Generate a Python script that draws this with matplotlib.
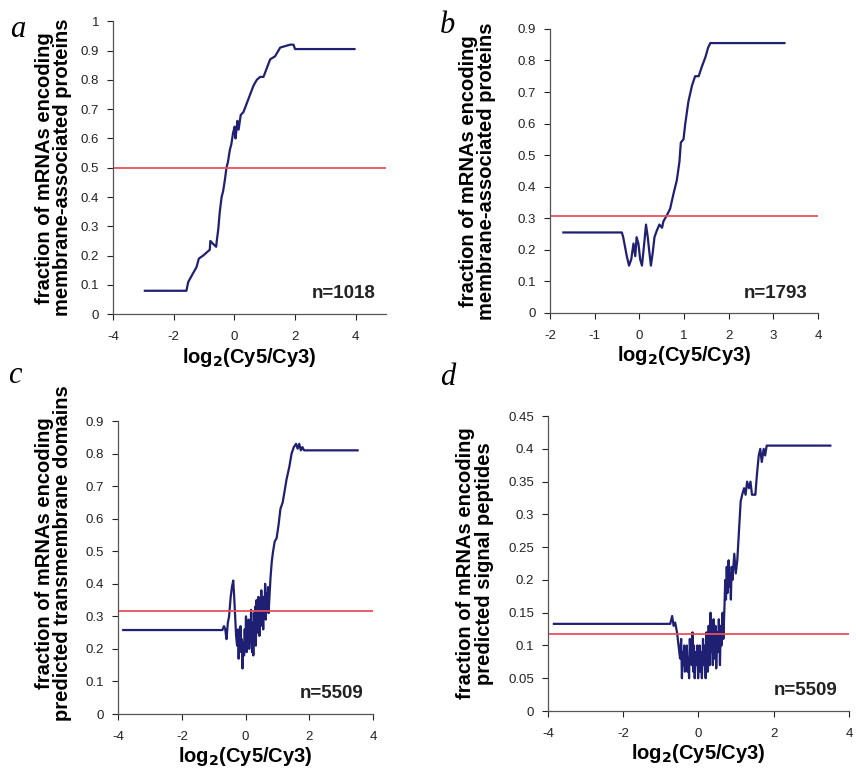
import matplotlib.pyplot as plt

plt.rcParams['axes.unicode_minus'] = False
plt.rcParams['font.family'] = 'Liberation Sans'

# panel a: membrane-associated proteins, n=1018
a_x = [-2.95, -1.58, -1.52, -1.36, -1.25, -1.17, -1.03, -0.92, -0.81, -0.79, -0.70, -0.60,
       -0.58, -0.53, -0.48, -0.42, -0.37, -0.31, -0.26, -0.21, -0.15, -0.10, -0.04, 0.01,
       0.04, 0.10, 0.14, 0.21, 0.30, 0.41, 0.52, 0.63, 0.74, 0.85, 0.96, 1.07, 1.18, 1.34,
       1.51, 1.67, 1.84, 1.95, 2.00, 3.96]
a_y = [0.08, 0.08, 0.11, 0.14, 0.16, 0.19, 0.20, 0.21, 0.22, 0.25, 0.24, 0.23,
       0.25, 0.29, 0.35, 0.40, 0.42, 0.46, 0.50, 0.52, 0.56, 0.58, 0.62, 0.64,
       0.60, 0.66, 0.63, 0.68, 0.69, 0.72, 0.75, 0.78, 0.80, 0.81, 0.81, 0.84, 0.87, 0.88,
       0.91, 0.915, 0.92, 0.92, 0.905, 0.905]
a_ref = 0.5

# panel b: membrane-associated proteins, n=1793
b_x = [-1.70, -0.39, -0.36, -0.32, -0.28, -0.23, -0.18, -0.13, -0.09, -0.06, -0.02, 0.02,
       0.06, 0.11, 0.15, 0.19, 0.22, 0.26, 0.30, 0.34, 0.39, 0.45, 0.51, 0.54, 0.62,
       0.69, 0.77, 0.84, 0.90, 0.93, 0.99, 1.03, 1.10, 1.18, 1.25, 1.33, 1.40, 1.48,
       1.54, 1.59, 3.25]
b_y = [0.255, 0.255, 0.24, 0.21, 0.18, 0.15, 0.17, 0.22, 0.18, 0.24, 0.22, 0.17,
       0.15, 0.22, 0.28, 0.24, 0.20, 0.15, 0.19, 0.24, 0.26, 0.28, 0.27, 0.29, 0.31,
       0.33, 0.38, 0.42, 0.48, 0.54, 0.55, 0.60, 0.67, 0.72, 0.75, 0.75, 0.78, 0.81,
       0.84, 0.855, 0.855]
b_ref = 0.308

# panel c: predicted transmembrane domains, n=5509
c_x = [-3.84, -0.73, -0.68, -0.64, -0.60, -0.56, -0.52, -0.47, -0.43, -0.39, -0.36, -0.33,
       -0.30, -0.27, -0.24, -0.22, -0.20, -0.18, -0.16, -0.14, -0.12, -0.10, -0.07, -0.05,
       -0.03, -0.01, 0.01, 0.03, 0.05, 0.07, 0.09, 0.11, 0.13, 0.15, 0.17, 0.20, 0.22,
       0.24, 0.26, 0.28, 0.30, 0.32, 0.34, 0.36, 0.38, 0.40, 0.43, 0.45, 0.47, 0.49,
       0.51, 0.53, 0.55, 0.57, 0.59, 0.61, 0.63, 0.65, 0.68, 0.70, 0.72, 0.74, 0.78,
       0.82, 0.86, 0.91, 0.97, 1.03, 1.09, 1.16, 1.23, 1.28, 1.37, 1.44, 1.51, 1.58,
       1.63, 1.68, 1.73, 1.78, 1.83, 3.51]
c_y = [0.258, 0.258, 0.27, 0.26, 0.23, 0.28, 0.30, 0.36, 0.39, 0.41, 0.36, 0.30,
       0.24, 0.21, 0.26, 0.17, 0.24, 0.20, 0.27, 0.19, 0.23, 0.14, 0.22, 0.18,
       0.26, 0.20, 0.30, 0.19, 0.25, 0.21, 0.29, 0.20, 0.27, 0.22, 0.32, 0.19, 0.28,
       0.18, 0.31, 0.23, 0.33, 0.21, 0.35, 0.25, 0.30, 0.36, 0.24, 0.33, 0.27, 0.38,
       0.28, 0.34, 0.26, 0.36, 0.30, 0.40, 0.29, 0.37, 0.33, 0.39, 0.31, 0.35,
       0.42, 0.47, 0.50, 0.53, 0.54, 0.58, 0.63, 0.65, 0.69, 0.72, 0.76, 0.80, 0.82,
       0.83, 0.815, 0.83, 0.81, 0.82, 0.81, 0.81]
c_ref = 0.315

# panel d: predicted signal peptides, n=5509
d_x = [-3.84, -0.75, -0.70, -0.66, -0.62, -0.57, -0.53, -0.49, -0.46, -0.44, -0.42, -0.40,
       -0.38, -0.36, -0.33, -0.31, -0.29, -0.27, -0.25, -0.23, -0.21, -0.18, -0.16, -0.14,
       -0.12, -0.10, -0.08, -0.06, -0.03, -0.01, 0.01, 0.03, 0.05, 0.07, 0.09, 0.12,
       0.14, 0.17, 0.19, 0.21, 0.23, 0.25, 0.27, 0.30, 0.32, 0.34, 0.36, 0.38, 0.40,
       0.43, 0.45, 0.47, 0.50, 0.52, 0.54, 0.57, 0.59, 0.61, 0.64, 0.66, 0.69, 0.71,
       0.73, 0.75, 0.77, 0.80, 0.82, 0.84, 0.86, 0.88, 0.90, 0.95, 0.99, 1.03, 1.08,
       1.12, 1.16, 1.21, 1.25, 1.29, 1.34, 1.38, 1.42, 1.47, 1.51, 1.55, 1.60, 1.64,
       1.68, 1.73, 1.77, 1.81, 3.50]
d_y = [0.133, 0.133, 0.145, 0.13, 0.135, 0.12, 0.10, 0.08, 0.11, 0.05, 0.09, 0.07,
       0.10, 0.06, 0.09, 0.10, 0.06, 0.08, 0.05, 0.11, 0.08, 0.07, 0.12, 0.06,
       0.10, 0.05, 0.09, 0.07, 0.10, 0.05, 0.08, 0.10, 0.06, 0.09, 0.05, 0.11,
       0.07, 0.10, 0.05, 0.12, 0.08, 0.06, 0.13, 0.07, 0.15, 0.09, 0.12, 0.07, 0.14,
       0.08, 0.13, 0.065, 0.12, 0.09, 0.14, 0.07, 0.13, 0.10, 0.15, 0.11, 0.16, 0.20,
       0.17, 0.22, 0.18, 0.23, 0.19, 0.21, 0.17, 0.22, 0.20, 0.24, 0.21, 0.23, 0.28,
       0.32, 0.33, 0.34, 0.33, 0.35, 0.34, 0.35, 0.33, 0.33, 0.33, 0.36, 0.39, 0.40,
       0.38, 0.40, 0.39, 0.405, 0.405]
d_ref = 0.118

navy = '#1f1f73'
red = '#e8505e'
axis_col = '#555555'

fig = plt.figure(figsize=(8.56, 7.72), dpi=100)

panels = [
    # letter, x, y, ref, xlim, xticks, ylim, yticks, ylabel, n, rect, label coords, letter pos
    ('a', a_x, a_y, a_ref, (-4, 5), [-4, -2, 0, 2, 4], (0, 1.0),
     [0, 0.1, 0.2, 0.3, 0.4, 0.5, 0.6, 0.7, 0.8, 0.9, 1],
     'fraction of mRNAs encoding\nmembrane-associated proteins', 'n=1018',
     [0.132, 0.593, 0.319, 0.3795], (-0.15, 0.5), (0.012, 0.952)),
    ('b', b_x, b_y, b_ref, (-2, 4), [-2, -1, 0, 1, 2, 3, 4], (0, 0.9),
     [0, 0.1, 0.2, 0.3, 0.4, 0.5, 0.6, 0.7, 0.8, 0.9],
     'fraction of mRNAs encoding\nmembrane-associated proteins', 'n=1793',
     [0.6425, 0.5946, 0.313, 0.368], (-0.20, 0.5), (0.514, 0.957)),
    ('c', c_x, c_y, c_ref, (-4, 4), [-4, -2, 0, 2, 4], (0, 0.9),
     [0, 0.1, 0.2, 0.3, 0.4, 0.5, 0.6, 0.7, 0.8, 0.9],
     'fraction of mRNAs encoding\npredicted transmembrane domains', 'n=5509',
     [0.138, 0.0751, 0.298, 0.3795], (-0.18, 0.55), (0.010, 0.504)),
    ('d', d_x, d_y, d_ref, (-4, 4), [-4, -2, 0, 2, 4], (0, 0.45),
     [0, 0.05, 0.1, 0.15, 0.2, 0.25, 0.3, 0.35, 0.4, 0.45],
     'fraction of mRNAs encoding\npredicted signal peptides', 'n=5509',
     [0.640, 0.079, 0.352, 0.382], (-0.18, 0.5), (0.514, 0.501)),
]

for letter, xs, ys, ref, xlim, xticks, ylim, yticks, ylabel, ntext, rect, lab_xy, let_xy in panels:
    ax = fig.add_axes(rect)
    ax.plot(xs, ys, color=navy, lw=1.6)
    ax.axhline(ref, color=red, lw=1.3)
    ax.set_xlim(*xlim)
    ax.set_ylim(*ylim)
    ax.set_xticks(xticks)
    ax.set_yticks(yticks)
    ax.set_yticklabels(['%g' % t for t in yticks])
    ax.spines['top'].set_visible(False)
    ax.spines['right'].set_visible(False)
    for s in ('left', 'bottom'):
        ax.spines[s].set_color(axis_col)
        ax.spines[s].set_linewidth(0.9)
    ax.tick_params(colors='#222222', labelsize=9.5, length=4, width=0.8, pad=6)
    ax.tick_params(axis='x', pad=8)
    ax.set_ylabel(ylabel, fontsize=14.5, fontweight='bold', linespacing=0.95)
    ax.yaxis.set_label_coords(*lab_xy)
    ax.set_xlabel(r'log$_\mathbf{2}$(Cy5/Cy3)', fontsize=14.5, fontweight='bold', labelpad=2)
    ax.text(0.96, 0.04, ntext, transform=ax.transAxes, ha='right', va='bottom',
            fontsize=13.5, fontweight='bold', color='#222222')
    fig.text(let_xy[0], let_xy[1], letter, fontsize=22, style='italic',
             family='Liberation Serif', va='baseline')

fig.savefig('out.png', dpi=100)
